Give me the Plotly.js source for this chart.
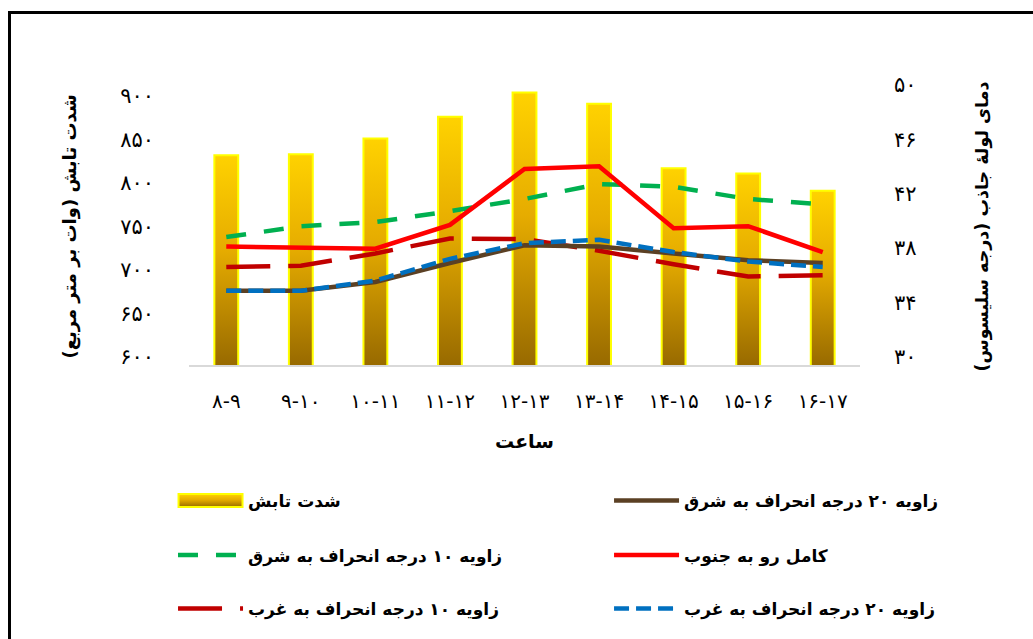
<!DOCTYPE html>
<html>
<head>
<meta charset="utf-8">
<script src="https://cdn.plot.ly/plotly-3.0.1.min.js"></script>
<style>
  html, body { margin: 0; padding: 0; background: #fff; }
  #wrap { position: relative; width: 1033px; height: 639px; overflow: hidden; }
  #chart { position: absolute; left: 0; top: 0; width: 1033px; height: 639px; }
  #frame { position: absolute; left: 8px; top: 11px; width: 1100px; height: 700px;
           border-left: 3px solid #000; border-top: 3px solid #000; pointer-events: none; }
</style>
</head>
<body>
<svg width="0" height="0" style="position:absolute">
  <defs id="gradDefs">
    <linearGradient id="barGrad" x1="0" y1="0" x2="0" y2="1">
      <stop offset="0" stop-color="#FFD200"/>
      <stop offset="0.45" stop-color="#E6AC00"/>
      <stop offset="1" stop-color="#986A00"/>
    </linearGradient>
  </defs>
</svg>
<div id="wrap"><div id="chart"></div><div id="frame"></div></div>
<script>
// ---- data ----
var categories = ['۸-۹','۹-۱۰','۱۰-۱۱','۱۱-۱۲','۱۲-۱۳','۱۳-۱۴','۱۴-۱۵','۱۵-۱۶','۱۶-۱۷'];
var radiation = [841, 842, 860, 885, 913, 900, 826, 820, 800];       // W/m2 (left axis)
var south     = [38.7, 38.6, 38.55, 40.3, 44.4, 44.6, 40.05, 40.2, 38.3];
var east10    = [39.4, 40.2, 40.5, 41.3, 42.2, 43.3, 43.1, 42.2, 41.8];
var east20    = [35.45, 35.45, 36.1, 37.5, 38.8, 38.7, 38.2, 37.7, 37.5];
var west10    = [37.2, 37.3, 38.2, 39.3, 39.25, 38.4, 37.4, 36.5, 36.6];
var west20    = [35.45, 35.45, 36.2, 37.8, 38.95, 39.2, 38.3, 37.6, 37.2];

var leftTickVals  = [600, 650, 700, 750, 800, 850, 900];
var leftTickText  = ['۶۰۰','۶۵۰','۷۰۰','۷۵۰','۸۰۰','۸۵۰','۹۰۰'];
var rightTickVals = [30, 34, 38, 42, 46, 50];
var rightTickText = ['۳۰','۳۴','۳۸','۴۲','۴۶','۵۰'];

var names = {
  rad: 'شدت تابش',
  e20: 'زاویه ۲۰ درجه انحراف به شرق',
  e10: 'زاویه ۱۰ درجه انحراف به شرق',
  s:   'کامل رو به جنوب',
  w10: 'زاویه ۱۰ درجه انحراف به غرب',
  w20: 'زاویه ۲۰ درجه انحراف به غرب'
};

var FONT = 'DejaVu Sans';

function lineTrace(y, name, color, dash, legend) {
  return {
    type: 'scatter', mode: 'lines', x: categories, y: y, name: name, yaxis: 'y2',
    line: { color: color, width: 4.5, dash: dash, shape: 'linear' },
    legend: legend, hoverinfo: 'skip'
  };
}

var data = [
  { type: 'bar', x: categories, y: radiation, name: names.rad,
    marker: { color: '#E0A800', line: { color: '#FFFF00', width: 2 } },
    legend: 'legend', hoverinfo: 'skip' },
  lineTrace(east10, names.e10, '#00B050', '20px,18px', 'legend3'),
  lineTrace(west10, names.w10, '#C00000', '44px,18px', 'legend5'),
  lineTrace(east20, names.e20, '#5B4024', 'solid', 'legend2'),
  lineTrace(west20, names.w20, '#0070C0', '15px,7px', 'legend6'),
  lineTrace(south,  names.s,   '#FF0000', 'solid', 'legend4')
];

function legendAt(x, y) {
  return {
    orientation: 'v', xref: 'paper', yref: 'paper', xanchor: 'left', yanchor: 'middle',
    x: x, y: y,
    font: { family: FONT, size: 17, color: '#000', weight: 700 },
    itemwidth: 65, bgcolor: 'rgba(0,0,0,0)', borderwidth: 0
  };
}
var colLeft = -0.0238, colRight = 0.626;
var row1 = -0.4911, row2 = -0.6876, row3 = -0.8806;

var layout = {
  width: 1033, height: 639,
  margin: { l: 189, r: 173, t: 88, b: 266, pad: 0 },
  paper_bgcolor: '#fff', plot_bgcolor: 'rgba(0,0,0,0)',
  font: { family: FONT, color: '#000' },
  bargap: 0.68,
  showlegend: true,
  xaxis: {
    type: 'category', showgrid: false, zeroline: false, automargin: false,
    showline: true, linecolor: '#D9D9D9', linewidth: 2,
    ticks: '', tickangle: 0, tickfont: { family: FONT, size: 20, color: '#000' },
    ticklabelstandoff: 17,
    title: { text: 'ساعت', font: { family: FONT, size: 19, color: '#000', weight: 700 }, standoff: 23 }
  },
  yaxis: {
    range: [600, 918.1], showgrid: false, zeroline: false, showline: false, automargin: false,
    tickvals: leftTickVals, ticktext: leftTickText,
    tickfont: { family: FONT, size: 21, color: '#000' },
    ticklabelstandoff: 34, ticklabelshift: -8,
    title: { text: 'شدت تابش (وات بر متر مربع)', font: { family: FONT, size: 18, color: '#000', weight: 700 }, standoff: 38 }
  },
  yaxis2: {
    overlaying: 'y', side: 'right', automargin: false,
    range: [30, 50.357], showgrid: false, zeroline: false, showline: false,
    tickvals: rightTickVals, ticktext: rightTickText,
    tickfont: { family: FONT, size: 21, color: '#000' },
    ticklabelstandoff: 33, ticklabelshift: -8,
    title: { text: 'دمای لولهٔ جاذب (درجه سلیسوس)', font: { family: FONT, size: 17.5, color: '#000', weight: 700 }, standoff: 60 }
  },
  legend:  legendAt(colLeft, row1),
  legend2: legendAt(colRight, row1),
  legend3: legendAt(colLeft, row2),
  legend4: legendAt(colRight, row2),
  legend5: legendAt(colLeft, row3),
  legend6: legendAt(colRight, row3)
};

var gd = document.getElementById('chart');
var NS = 'http://www.w3.org/2000/svg';
var gradStops = [['0', '#FFD200'], ['0.45', '#E6AC00'], ['1', '#986A00']];

function barGradient(i, y1, y2) {
  var id = 'barGrad' + i;
  var g = document.getElementById(id);
  if (!g) {
    g = document.createElementNS(NS, 'linearGradient');
    g.setAttribute('id', id);
    g.setAttribute('gradientUnits', 'userSpaceOnUse');
    gradStops.forEach(function (s) {
      var st = document.createElementNS(NS, 'stop');
      st.setAttribute('offset', s[0]); st.setAttribute('stop-color', s[1]);
      g.appendChild(st);
    });
    document.getElementById('gradDefs').appendChild(g);
  }
  g.setAttribute('x1', '0'); g.setAttribute('x2', '0');
  g.setAttribute('y1', String(y1)); g.setAttribute('y2', String(y2));
  return id;
}

function decorate() {
  var fl = gd._fullLayout;
  var H = fl && fl._size ? fl._size.h : 285;
  gd.querySelectorAll('.barlayer .point path').forEach(function (p, i) {
    var bb;
    try { bb = p.getBBox(); } catch (e) { return; }
    var top = Math.max(bb.y, 0);
    var bottom = Math.min(bb.y + bb.height, H);
    var id = barGradient(i, top, bottom);
    var want = 'url("#' + id + '")';
    if (p.style.fill !== want) p.style.fill = 'url(#' + id + ')';
  });
  gd.querySelectorAll('.legendpoints path').forEach(function (p) {
    var d = p.getAttribute('d') || '';
    if (d.indexOf('M6,6H-6V-6H6Z') === 0) {
      p.setAttribute('d', 'M32,6.5H-32V-6.5H32Z');
      p.style.fill = 'url(#barGrad)';
      p.style.stroke = '#FFFF00';
      p.style.strokeWidth = '2px';
    }
  });
}

var obs = new MutationObserver(function () { decorate(); });
obs.observe(gd, { childList: true, subtree: true });

var pr = Plotly.newPlot(gd, data, layout, { staticPlot: true, displayModeBar: false });
decorate();
pr.then(function () {
  decorate();
  gd.on('plotly_afterplot', decorate);
  setTimeout(decorate, 30);
});
</script>
</body>
</html>
